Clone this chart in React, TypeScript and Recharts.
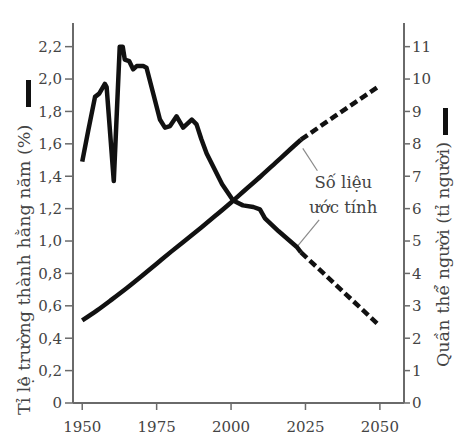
import React from 'react';
import { LineChart, Line, XAxis, YAxis, ReferenceLine, ReferenceDot } from 'recharts';

// Annual growth rate (%) – recorded
const growthYears = [1950, 1952, 1954.3, 1955.7, 1957.6, 1958.2, 1960.6, 1962.6, 1963.6, 1964.3, 1965.8, 1967.1, 1968.3, 1970.5, 1971.6, 1974, 1976.1, 1977.8, 1979.5, 1981.7, 1983.9, 1986.8, 1988.4, 1990, 1991.8, 1994, 1997, 2000.7, 2004, 2007.5, 2009.7, 2011.4, 2016, 2022, 2023.5];
const growthRates = [1.49, 1.68, 1.89, 1.91, 1.97, 1.95, 1.37, 2.2, 2.2, 2.12, 2.11, 2.06, 2.08, 2.08, 2.07, 1.9, 1.75, 1.7, 1.71, 1.77, 1.7, 1.75, 1.72, 1.63, 1.54, 1.46, 1.35, 1.25, 1.22, 1.21, 1.195, 1.14, 1.06, 0.965, 0.93];
// Annual growth rate (%) – projected
const growthProjYears = [2023.5, 2035, 2050];
const growthProjRates = [0.93, 0.733, 0.475];

// Human population (billions) – recorded
const popYears = [1950, 1955, 1960, 1965, 1970, 1975, 1980, 1985, 1990, 1995, 2000, 2005, 2010, 2015, 2020, 2023.5];
const popValues = [2.55, 2.86, 3.2, 3.55, 3.92, 4.3, 4.68, 5.05, 5.42, 5.8, 6.19, 6.6, 7.0, 7.42, 7.84, 8.13];
// Human population (billions) – projected
const popProjYears = [2023.5, 2035, 2050];
const popProjValues = [8.13, 8.86, 9.8];

const xTicks = [1950, 1975, 2000, 2025, 2050];
const leftTicks = [0, 0.2, 0.4, 0.6, 0.8, 1.0, 1.2, 1.4, 1.6, 1.8, 2.0, 2.2];
const rightTicks = [0, 1, 2, 3, 4, 5, 6, 7, 8, 9, 10, 11];

const leftTitle = 'Tỉ lệ trường thành hằng năm (%)';
const rightTitle = 'Quần thể người (tỉ người)';
const noteLines = ['Số liệu', 'ước tính'];

// annotation anchors (data coordinates on the left axis)
const noteAnchor = { x: 2037.7, y: 1.33 };
const upperLeader = [{ x: 2024.1, y: 1.572 }, { x: 2029.0, y: 1.434 }];
const lowerLeader = [{ x: 2022.2, y: 0.965 }, { x: 2029.6, y: 1.13 }];

const FONT = 'DejaVu Serif';
const AXIS = '#6a6a6a';
const TEXT = '#444';
const INK = '#111';

const zip = (xs: number[], ys: number[]) => xs.map((year, i) => ({ year, value: ys[i] }));

const LeftTitle = (props: any) => {
  const vb = props.viewBox || { x: 0, y: 23, width: 73, height: 380 };
  const bx = vb.x + 30;
  const by = 415;
  return (
    <g>
      <rect x={vb.x + 26} y={80} width={5} height={27} fill={INK} />
      <text x={bx} y={by} transform={`rotate(-90, ${bx}, ${by})`} textAnchor="start" fontFamily={FONT} fontSize={17.5} fill={TEXT}>
        {leftTitle}
      </text>
    </g>
  );
};

const RightTitle = (props: any) => {
  const vb = props.viewBox || { x: 404, y: 23, width: 65, height: 380 };
  const bx = vb.x + 45;
  const by = 367;
  return (
    <g>
      <rect x={vb.x + 39} y={108} width={5} height={27} fill={INK} />
      <text x={bx} y={by} transform={`rotate(-90, ${bx}, ${by})`} textAnchor="start" fontFamily={FONT} fontSize={17.5} fill={TEXT}>
        {rightTitle}
      </text>
    </g>
  );
};

const NoteLabel = (props: any) => {
  const vb = props.viewBox || { x: 0, y: 0 };
  const cx = vb.x + (vb.width || 0) / 2;
  const cy = vb.y + (vb.height || 0) / 2;
  return (
    <text x={cx} y={cy} textAnchor="middle" fontFamily={FONT} fontSize={16.5} fill={TEXT}>
      {noteLines.map((t, i) => (
        <tspan key={t} x={cx} dy={i === 0 ? 0 : 25}>{t}</tspan>
      ))}
    </text>
  );
};

export default function App() {
  const growth = zip(growthYears, growthRates);
  const growthProj = zip(growthProjYears, growthProjRates);
  const pop = zip(popYears, popValues);
  const popProj = zip(popProjYears, popProjValues);

  const tickStyle = { fill: TEXT, fontSize: 15, fontFamily: FONT };

  return (
    <div style={{ position: 'absolute', left: 0, top: 0, width: 469, height: 438, background: '#fff' }}>
      <LineChart width={469} height={438} margin={{ top: 23, right: 0, bottom: 0, left: 0 }}>
        <XAxis
          dataKey="year"
          type="number"
          domain={[1946.9, 2058.1]}
          ticks={xTicks}
          interval={0}
          allowDataOverflow
          height={35}
          tickSize={7}
          tickMargin={11}
          stroke={AXIS}
          axisLine={{ stroke: AXIS, strokeWidth: 2 }}
          tickLine={{ stroke: AXIS, strokeWidth: 1.5 }}
          tick={tickStyle}
        />
        <YAxis
          yAxisId="left"
          width={73}
          type="number"
          domain={[0, 2.346]}
          allowDataOverflow
          ticks={leftTicks}
          interval={0}
          tickFormatter={(v: number) => (v === 0 ? '0' : v.toFixed(1).replace('.', ','))}
          tickSize={8}
          tickMargin={3}
          stroke={AXIS}
          axisLine={{ stroke: AXIS, strokeWidth: 2 }}
          tickLine={{ stroke: AXIS, strokeWidth: 1.5 }}
          tick={tickStyle}
          label={(p: any) => <LeftTitle {...p} />}
        />
        <YAxis
          yAxisId="right"
          orientation="right"
          width={65}
          type="number"
          domain={[0, 11.73]}
          allowDataOverflow
          ticks={rightTicks}
          interval={0}
          tickSize={6}
          tickMargin={2}
          stroke={AXIS}
          axisLine={{ stroke: AXIS, strokeWidth: 2 }}
          tickLine={{ stroke: AXIS, strokeWidth: 1.5 }}
          tick={tickStyle}
          label={(p: any) => <RightTitle {...p} />}
        />
        <ReferenceLine yAxisId="left" segment={upperLeader} stroke="#8a8a8a" strokeWidth={1.2} ifOverflow="visible" />
        <ReferenceLine yAxisId="left" segment={lowerLeader} stroke="#8a8a8a" strokeWidth={1.2} ifOverflow="visible" />
        <Line yAxisId="right" data={pop} dataKey="value" type="monotone" stroke={INK} strokeWidth={4.5} dot={false} activeDot={false} isAnimationActive={false} strokeLinejoin="round" />
        <Line yAxisId="right" data={popProj} dataKey="value" type="monotone" stroke={INK} strokeWidth={4.5} strokeDasharray="8 4" dot={false} activeDot={false} isAnimationActive={false} />
        <Line yAxisId="left" data={growth} dataKey="value" type="linear" stroke={INK} strokeWidth={4.5} dot={false} activeDot={false} isAnimationActive={false} strokeLinejoin="round" />
        <Line yAxisId="left" data={growthProj} dataKey="value" type="linear" stroke={INK} strokeWidth={4.5} strokeDasharray="8 4" dot={false} activeDot={false} isAnimationActive={false} />
        <ReferenceDot yAxisId="left" x={noteAnchor.x} y={noteAnchor.y} r={0} fill="none" stroke="none" ifOverflow="visible" label={(p: any) => <NoteLabel {...p} />} />
      </LineChart>
    </div>
  );
}
